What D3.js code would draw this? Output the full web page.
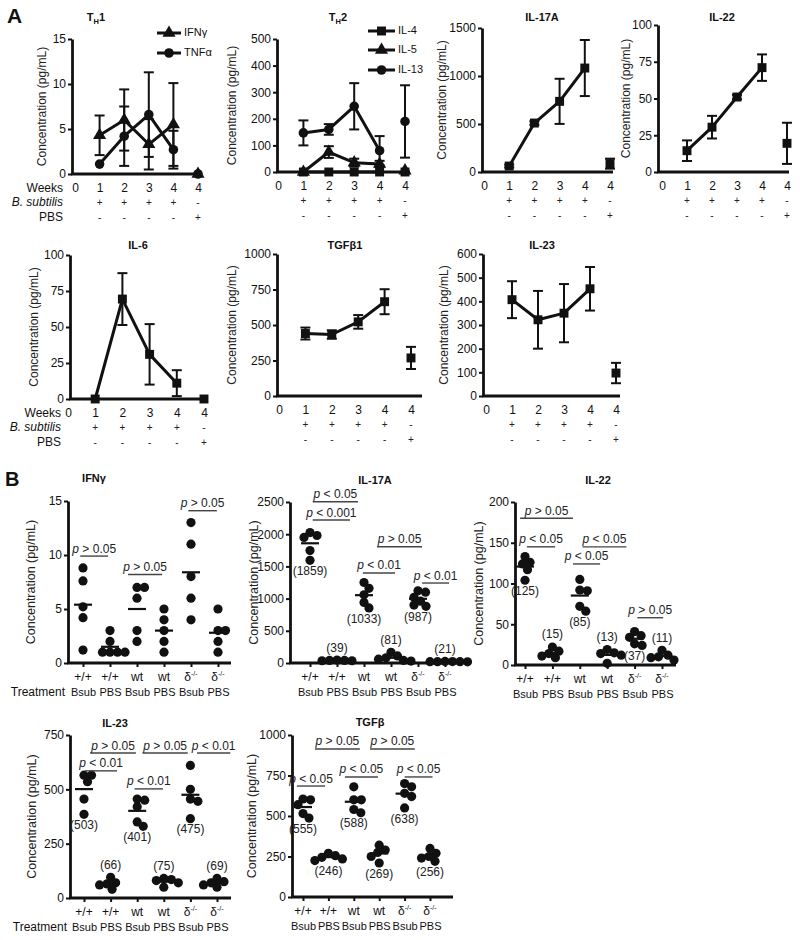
<!DOCTYPE html>
<html><head><meta charset="utf-8">
<script src="https://cdn.jsdelivr.net/npm/d3@7"></script>
<style>body{margin:0;background:#fff}</style>
</head><body><script>
// ================= DATA: panel A (weeks 1-4 means / SD, and PBS [mean, SD]) =================
const weekLabels = ["0","1","2","3","4","4"];
const bsubSigns  = ["","+","+","+","+","-"];
const pbsSigns   = ["","-","-","-","-","+"];
const weekIdx = [1,2,3,4];
const pbsIdx = 5;

const th1IfngMean=[4.3,6.0,3.3,5.5], th1IfngSD=[2.2,3.4,2.8,4.6], th1IfngPBS=[0,0];
const th1TnfMean =[1.1,4.2,6.6,2.7], th1TnfSD =[0,3.3,4.7,2.1], th1TnfPBS =[0,0];
const th2Il4Mean =[0,0,0,0],        th2Il4SD =[0,0,0,0],        th2Il4PBS =[0,0];
const th2Il5Mean =[0,75,35,30],     th2Il5SD =[0,22,15,12],     th2Il5PBS =[5,0];
const th2Il13Mean=[147,160,247,80], th2Il13SD=[47,20,87,55],    th2Il13PBS=[190,136];
const il17Mean=[62,510,736,1083],   il17SD=[15,18,235,292],     il17PBS=[87,52];
const il22Mean=[14.5,30.5,51,71],   il22SD=[7,7.7,1.5,9],       il22PBS=[19.5,14];
const il6Mean =[0,69.4,31,11],      il6SD =[0,18,21,9],         il6PBS =[0,0];
const tgf1Mean=[440,433,522,664],   tgf1SD=[42,30,48,88],       tgf1PBS=[268,78];
const il23Mean=[407,322,350,453],   il23SD=[78,122,123,92],     il23PBS=[97,43];

// ================= DATA: panel B (individual animals per group) =================
const genotypes  = ["+/+","+/+","wt","wt","δ","δ"];
const treatments = ["Bsub","PBS","Bsub","PBS","Bsub","PBS"];

const bIfngPts = [[8.8,7.6,5.2,4.2,1.2],[3,2,1,1,1,1],[7,7,6,3,2],[5,4,3,2,1],[13,11,8,6,4],[5,3,3,2,1]];
const bIfngAnn = [{t:"> 0.05",a:-0.1,b:0.93,y:9.9},{t:"> 0.05",a:1.67,b:2.93,y:8.2},{t:"> 0.05",a:3.9,b:4.96,y:14.1}];

const bIl17Pts = [[2025,1980,1950,1745,1595],[45,40,35,40,35],[1160,1250,1060,940,855],[165,110,80,60,40,30],[1120,1100,1020,960,900,880],[25,20,20,22,18,21]];
const bIl17Lbl = ["(1859)","(39)","(1033)","(81)","(987)","(21)"];
const bIl17Ann = [{t:"< 0.05",a:0.1,b:1.78,y:2505},{t:"< 0.001",a:0.1,b:1.48,y:2220},{t:"> 0.05",a:2.48,b:4.15,y:1806},{t:"< 0.01",a:1.96,b:3.15,y:1398},{t:"< 0.01",a:4.15,b:5.15,y:1242}];

const bIl22Pts = [[133,126,124,117,104],[22,17,14,11,9],[105,92,91,72,66],[19,15,14,12,2],[41,36,34,26,24],[18,12,10,9,6]];
const bIl22Lbl = ["(125)","(15)","(85)","(13)","(37)","(11)"];
const bIl22Ann = [{t:"> 0.05",a:-0.18,b:1.75,y:180},{t:"< 0.05",a:0.07,b:1.1,y:145},{t:"< 0.05",a:2.1,b:3.7,y:145},{t:"< 0.05",a:1.75,b:2.74,y:124},{t:"> 0.05",a:4.1,b:5.04,y:58}];

const bIl23Pts = [[565,565,535,455,385],[95,70,65,60,40],[455,450,420,350,330],[90,85,80,70,50],[610,500,455,445,365],[90,75,70,60,50]];
const bIl23Lbl = ["(503)","(66)","(401)","(75)","(475)","(69)"];
const bIl23Ann = [{t:"> 0.05",a:0.23,b:1.95,y:667},{t:"< 0.01",a:0.04,b:1.24,y:585},{t:"> 0.05",a:2.2,b:3.9,y:667},{t:"< 0.01",a:1.9,b:2.97,y:502},{t:"< 0.01",a:4.25,b:5.5,y:667}];

const bTgfPts = [[605,600,570,515,487],[270,255,245,235,225],[680,600,600,540,520],[320,290,275,250,210],[700,680,640,620,550],[300,270,250,240,220]];
const bTgfLbl = ["(555)","(246)","(588)","(269)","(638)","(256)"];
const bTgfAnn = [{t:"< 0.05",a:-0.24,b:0.87,y:685},{t:"> 0.05",a:0.47,b:2.24,y:914},{t:"< 0.05",a:1.65,b:2.95,y:741},{t:"> 0.05",a:2.64,b:4.4,y:914},{t:"< 0.05",a:4.0,b:5.1,y:741}];

// ================= LAYOUT =================
const FONT = '"Liberation Sans", Arial, Helvetica, sans-serif';
const INK = "#111";
const fmt = d3.format("d");
const svg = d3.select("body").append("svg").attr("width",800).attr("height",940)
  .style("display","block").attr("font-family",FONT);

function styleAxis(sel, fs){
  sel.attr("font-family",FONT).attr("font-size",fs);
  sel.select(".domain").attr("stroke",INK).attr("stroke-width",2.8);
  sel.selectAll(".tick line").attr("stroke",INK).attr("stroke-width",2);
  sel.selectAll(".tick text").attr("fill",INK);
}
function yLabel(g, x, yMid, fs){
  g.append("text").attr("transform",`translate(${x},${yMid}) rotate(-90)`)
    .attr("text-anchor","middle").attr("dominant-baseline","middle")
    .attr("font-size",fs).attr("fill","#222").text("Concentration (pg/mL)");
}
function title(g, parts, x, y){
  const t = g.append("text").attr("x",x).attr("y",y).attr("text-anchor","middle")
    .attr("font-size",11).attr("font-weight","bold").attr("fill",INK);
  if (parts.length===3){
    t.append("tspan").text(parts[0]);
    t.append("tspan").attr("font-size",7.5).attr("dy",3).text(parts[1]);
    t.append("tspan").attr("dy",-3).text(parts[2]);
  } else t.text(parts[0]);
}
const symType = {sq:d3.symbolSquare, tri:d3.symbolTriangle, circ:d3.symbolCircle};
const symSize = {sq:80, tri:75, circ:72};

const panelsA = [
 {title:["T","H","1"], tx:96, ty:21, axisX:72, yB:174, yT:39, dom:[0,15], ticks:[0,5,10,15], x0:75, x5:198, xEnd:201, ylx:43, rows:true,
  series:[{mean:th1IfngMean,sd:th1IfngSD,pbs:th1IfngPBS,sym:"tri",name:"IFNγ"},
          {mean:th1TnfMean,sd:th1TnfSD,pbs:th1TnfPBS,sym:"circ",name:"TNFα"}],
  legend:{x1:157,x2:181,tx:184,ys:[33,53]}},
 {title:["T","H","2"], tx:338, ty:21, axisX:277, yB:172, yT:39, dom:[0,500], ticks:d3.range(0,501,100), x0:278, x5:405, xEnd:410, ylx:233,
  series:[{mean:th2Il4Mean,sd:th2Il4SD,pbs:th2Il4PBS,sym:"sq",name:"IL-4"},
          {mean:th2Il5Mean,sd:th2Il5SD,pbs:th2Il5PBS,sym:"tri",name:"IL-5"},
          {mean:th2Il13Mean,sd:th2Il13SD,pbs:th2Il13PBS,sym:"circ",name:"IL-13"}],
  legend:{x1:368,x2:395,tx:398,ys:[31,50,70]}},
 {title:["IL-17A"], tx:542, ty:21, axisX:482, yB:172, yT:28, dom:[0,1500], ticks:[0,500,1000,1500], x0:484, x5:610, xEnd:613, ylx:443,
  series:[{mean:il17Mean,sd:il17SD,pbs:il17PBS,sym:"sq"}]},
 {title:["IL-22"], tx:722, ty:21, axisX:658, yB:172, yT:25, dom:[0,100], ticks:[0,25,50,75,100], x0:662, x5:787, xEnd:789, ylx:627,
  series:[{mean:il22Mean,sd:il22SD,pbs:il22PBS,sym:"sq"}]},
 {title:["IL-6"], tx:138, ty:249, axisX:70, yB:399, yT:255, dom:[0,100], ticks:[0,25,50,75,100], x0:68, x5:204, xEnd:208, ylx:35, rows:true,
  series:[{mean:il6Mean,sd:il6SD,pbs:il6PBS,sym:"sq"}]},
 {title:["TGFβ1"], tx:345, ty:249, axisX:277, yB:396, yT:254, dom:[0,1000], ticks:[0,250,500,750,1000], x0:279, x5:411, xEnd:422, ylx:233,
  series:[{mean:tgf1Mean,sd:tgf1SD,pbs:tgf1PBS,sym:"sq"}]},
 {title:["IL-23"], tx:542, ty:249, axisX:483, yB:396, yT:254, dom:[0,600], ticks:d3.range(0,601,100), x0:486, x5:616, xEnd:620, ylx:445,
  series:[{mean:il23Mean,sd:il23SD,pbs:il23PBS,sym:"sq"}]}
];

function drawPanelA(p){
  const g = svg.append("g");
  const x = d3.scaleLinear().domain([0,5]).range([p.x0,p.x5]);
  const y = d3.scaleLinear().domain(p.dom).range([p.yB,p.yT]);
  title(g, p.title, p.tx, p.ty);
  const ya = g.append("g").attr("transform",`translate(${p.axisX},0)`)
    .call(d3.axisLeft(y).tickValues(p.ticks).tickFormat(fmt).tickSize(4).tickSizeOuter(0).tickPadding(2));
  styleAxis(ya, 12);
  g.append("line").attr("x1",p.axisX-1).attr("x2",p.xEnd).attr("y1",y(0)).attr("y2",y(0))
    .attr("stroke",INK).attr("stroke-width",2.8);
  const xa = g.append("g").attr("transform",`translate(0,${y(0)})`)
    .call(d3.axisBottom(x).tickValues(d3.range(6)).tickFormat(i=>weekLabels[i]).tickSize(0).tickPadding(9));
  xa.select(".domain").remove();
  styleAxis(xa, 12);
  d3.range(6).forEach(i=>{
    g.append("text").attr("x",x(i)).attr("y",y(0)+32).attr("text-anchor","middle").attr("font-size",10).attr("fill","#222").text(bsubSigns[i]);
    g.append("text").attr("x",x(i)).attr("y",y(0)+47).attr("text-anchor","middle").attr("font-size",10).attr("fill","#222").text(pbsSigns[i]);
  });
  if (p.rows){
    const ex = p.axisX-9;
    g.append("text").attr("x",ex).attr("y",y(0)+17.5).attr("text-anchor","end").attr("font-size",12).attr("fill",INK).text("Weeks");
    g.append("text").attr("x",ex).attr("y",y(0)+32).attr("text-anchor","end").attr("font-size",12).attr("font-style","italic").attr("fill",INK).text("B. subtilis");
    g.append("text").attr("x",ex).attr("y",y(0)+47).attr("text-anchor","end").attr("font-size",12).attr("fill",INK).text("PBS");
  }
  yLabel(g, p.ylx, (p.yB+p.yT)/2, 12);
  p.series.forEach(s=>{
    const pts = weekIdx.map((w,i)=>({x:x(w), m:s.mean[i], sd:s.sd[i]}));
    const all = pts.concat([{x:x(pbsIdx), m:s.pbs[0], sd:s.pbs[1]}]);
    all.forEach(d=>{
      if (d.sd>0){
        const lo = Math.max(0,d.m-d.sd), hi = d.m+d.sd;
        g.append("line").attr("x1",d.x).attr("x2",d.x).attr("y1",y(lo)).attr("y2",y(hi)).attr("stroke",INK).attr("stroke-width",2);
        [lo,hi].forEach(v=>g.append("line").attr("x1",d.x-5).attr("x2",d.x+5).attr("y1",y(v)).attr("y2",y(v)).attr("stroke",INK).attr("stroke-width",2));
      }
    });
    g.append("path").attr("d", d3.line().x(d=>d.x).y(d=>y(d.m))(pts))
      .attr("fill","none").attr("stroke",INK).attr("stroke-width",3).attr("stroke-linejoin","round");
    all.forEach(d=>{
      g.append("path").attr("d", d3.symbol(symType[s.sym], symSize[s.sym])())
        .attr("transform",`translate(${d.x},${y(d.m)})`).attr("fill",INK);
    });
  });
  if (p.legend){
    p.series.forEach((s,i)=>{
      const ly = p.legend.ys[i];
      g.append("line").attr("x1",p.legend.x1).attr("x2",p.legend.x2).attr("y1",ly).attr("y2",ly).attr("stroke",INK).attr("stroke-width",3);
      g.append("path").attr("d", d3.symbol(symType[s.sym], symSize[s.sym])())
        .attr("transform",`translate(${(p.legend.x1+p.legend.x2)/2},${ly})`).attr("fill",INK);
      g.append("text").attr("x",p.legend.tx).attr("y",ly).attr("dominant-baseline","middle")
        .attr("font-size",11).attr("fill",INK).text(s.name);
    });
  }
}

const panelsB = [
 {title:"IFNγ", tx:94, ty:482, axisX:68, yB:663, yT:501, dom:[0,15], ticks:[0,5,10,15], x0:83, x5:218, xEnd:231, ylx:32, treat:true, pts:bIfngPts, lbl:null, ann:bIfngAnn},
 {title:"IL-17A", tx:375, ty:484, axisX:290, yB:663, yT:502, dom:[0,2500], ticks:d3.range(0,2501,500), x0:310, x5:445, xEnd:458, ylx:255, pts:bIl17Pts, lbl:bIl17Lbl, ann:bIl17Ann},
 {title:"IL-22", tx:598, ty:484, axisX:515, yB:665, yT:502, dom:[0,200], ticks:d3.range(0,201,50), x0:525, x5:662, xEnd:676, ylx:480, pts:bIl22Pts, lbl:bIl22Lbl, ann:bIl22Ann},
 {title:"IL-23", tx:115, ty:727, axisX:70, yB:898, yT:735, dom:[0,750], ticks:[0,250,500,750], x0:84, x5:217, xEnd:231, ylx:33, treat:true, pts:bIl23Pts, lbl:bIl23Lbl, ann:bIl23Ann},
 {title:"TGFβ", tx:370, ty:726, axisX:292, yB:897, yT:735, dom:[0,1000], ticks:d3.range(0,1001,250), x0:303, x5:430, xEnd:453, ylx:253, pts:bTgfPts, lbl:bTgfLbl, ann:bTgfAnn}
];

const R = 4.6;
function swarm(vals, y){
  const items = vals.map(v=>({v, py:y(v)})).sort((a,b)=>a.py-b.py);
  const placed = [], minD = R*1.6;
  items.forEach(p=>{
    let off = 0;
    for (let k=0;k<400;k++){
      const c = k===0 ? 0 : (k%2 ? 1 : -1)*Math.ceil(k/2)*0.5;
      if (placed.every(q=>(q.dx-c)**2+(q.py-p.py)**2 >= minD*minD)){ off = c; break; }
    }
    p.dx = off; placed.push(p);
  });
  return placed;
}

function drawPanelB(p){
  const g = svg.append("g");
  const x = d3.scaleLinear().domain([0,5]).range([p.x0,p.x5]);
  const y = d3.scaleLinear().domain(p.dom).range([p.yB,p.yT]);
  title(g, [p.title], p.tx, p.ty);
  const ya = g.append("g").attr("transform",`translate(${p.axisX},0)`)
    .call(d3.axisLeft(y).tickValues(p.ticks).tickFormat(fmt).tickSize(4).tickSizeOuter(0).tickPadding(2));
  styleAxis(ya, 12);
  g.append("line").attr("x1",p.axisX-1).attr("x2",p.xEnd).attr("y1",y(0)).attr("y2",y(0))
    .attr("stroke",INK).attr("stroke-width",2.8);
  const xa = g.append("g").attr("transform",`translate(0,${y(0)})`)
    .call(d3.axisBottom(x).tickValues(d3.range(6)).tickFormat(i=>treatments[i]).tickSize(4).tickPadding(21));
  xa.select(".domain").remove();
  styleAxis(xa, 11);
  genotypes.forEach((gt,i)=>{
    const t = g.append("text").attr("x",x(i)).attr("y",y(0)+18).attr("text-anchor","middle").attr("font-size",12).attr("fill",INK);
    if (gt==="δ"){ t.append("tspan").text("δ"); t.append("tspan").attr("font-size",7).attr("dy",-5).text("-/-"); }
    else t.text(gt);
  });
  if (p.treat){
    g.append("text").attr("x",p.axisX-3).attr("y",y(0)+33).attr("text-anchor","end").attr("font-size",12).attr("fill",INK).text("Treatment");
  }
  yLabel(g, p.ylx, (p.yB+p.yT)/2, 12.5);
  p.pts.forEach((vals,i)=>{
    const sw = swarm(vals, y);
    sw.forEach(d=>g.append("circle").attr("cx",x(i)+d.dx).attr("cy",d.py).attr("r",R).attr("fill",INK));
    const m = d3.mean(vals);
    g.append("line").attr("x1",x(i)-9).attr("x2",x(i)+9).attr("y1",y(m)).attr("y2",y(m)).attr("stroke",INK).attr("stroke-width",2.2);
    if (p.lbl){
      const minPy = d3.min(sw,d=>d.py), maxPy = d3.max(sw,d=>d.py);
      const below = maxPy + R + 10 < y(0);
      g.append("text").attr("x",x(i)).attr("y", below ? maxPy+R+10 : minPy-R-4)
        .attr("text-anchor","middle").attr("font-size",12).attr("fill","#222").text(p.lbl[i]);
    }
  });
  p.ann.forEach(a=>{
    const ly = y(a.y);
    g.append("line").attr("x1",x(a.a)).attr("x2",x(a.b)).attr("y1",ly).attr("y2",ly).attr("stroke","#444").attr("stroke-width",1.4);
    const t = g.append("text").attr("x",(x(a.a)+x(a.b))/2).attr("y",ly-3.5).attr("text-anchor","middle").attr("font-size",12).attr("fill","#222");
    t.append("tspan").attr("font-style","italic").text("p");
    t.append("tspan").text(" "+a.t);
  });
}

panelsA.forEach(drawPanelA);
panelsB.forEach(drawPanelB);

svg.append("text").attr("x",7).attr("y",23).attr("font-size",21).attr("font-weight","bold").attr("fill",INK).text("A");
svg.append("text").attr("x",5).attr("y",486).attr("font-size",20).attr("font-weight","bold").attr("fill",INK).text("B");
</script></body></html>
